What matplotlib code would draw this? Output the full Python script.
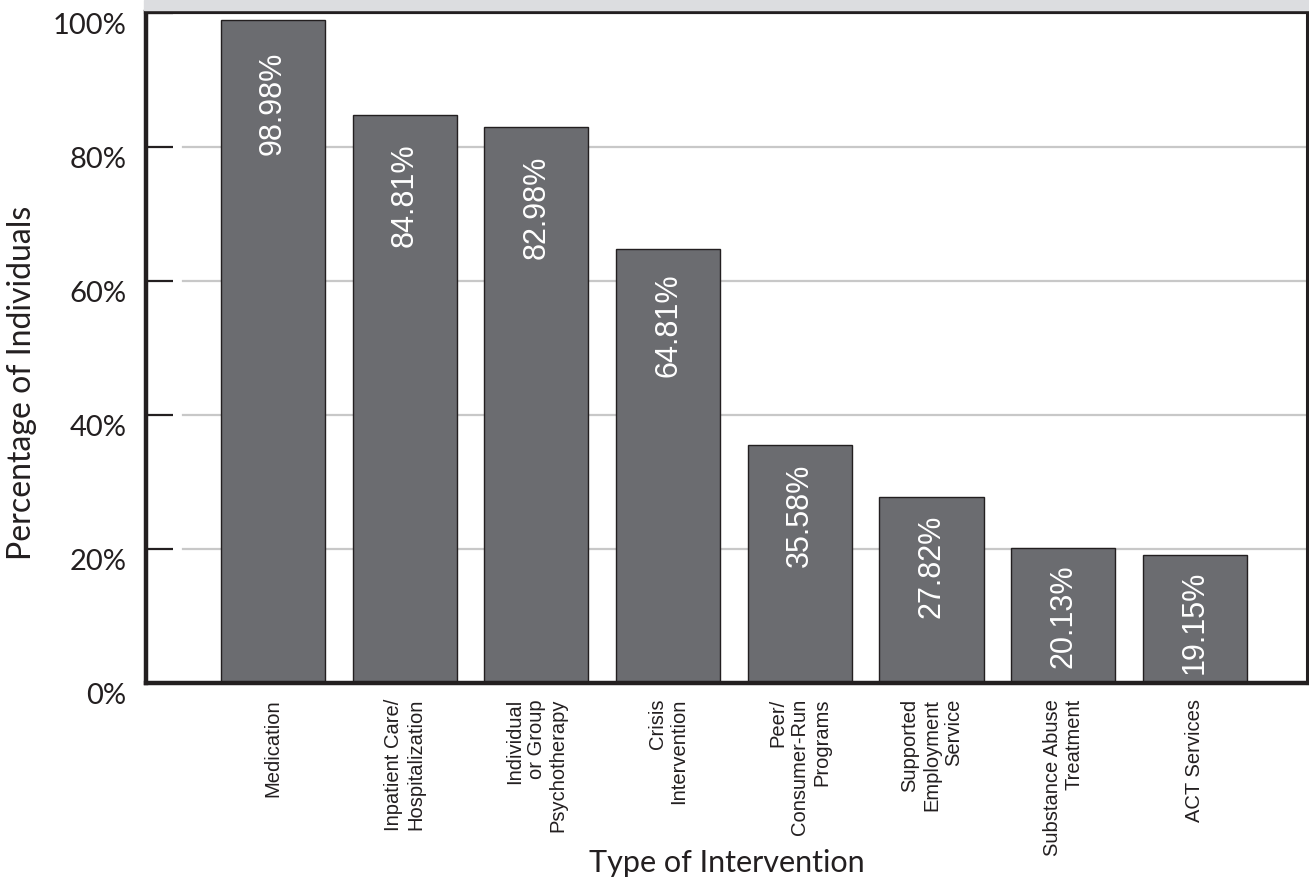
import numpy as np
import matplotlib
matplotlib.use("Agg")
from matplotlib import pyplot as plt
from matplotlib import font_manager
from matplotlib.patches import Rectangle

categories = ["Medication", "Inpatient Care/\nHospitalization",
              "Individual\nor Group\nPsychotherapy", "Crisis\nIntervention",
              "Peer/\nConsumer-Run\nPrograms", "Supported\nEmployment\nService",
              "Substance Abuse\nTreatment", "ACT Services"]
percents = [98.98, 84.81, 82.98, 64.81, 35.58, 27.82, 20.13, 19.15]
y_ticks = [0, 20, 40, 60, 80, 100]
grid_levels = [20, 40, 60, 80]

ink = "#231f20"
bar_fill = "#6b6c70"
humanist = ["Lato", "DejaVu Sans"]

installed = {f.name for f in font_manager.fontManager.ttflist}
if "Liberation Sans Narrow" in installed:
    value_font, value_size = ["Liberation Sans Narrow", "DejaVu Sans"], 26
else:
    value_font, value_size = ["Liberation Sans", "DejaVu Sans"], 22

fig = plt.figure(figsize=(13.09, 8.8), dpi=100)
ax = fig.add_axes([0.1115, 0.2239, 0.887, 0.7619])

# light strip running along the top edge
fig.patches.append(Rectangle((144 / 1309, 1 - 10 / 880), 1, 10 / 880,
                             transform=fig.transFigure, color="#dcdde0", zorder=0))

x = np.arange(len(categories))
for lvl in grid_levels:
    ax.axhline(lvl, xmin=0.032, xmax=1, color="#c8c8c8", lw=1.6, zorder=1)

bars = ax.bar(x, percents, width=0.79, color=bar_fill, edgecolor=ink, lw=1.0, zorder=2)

# value printed sideways just under the top of each bar
for xi, v in zip(x, percents):
    drop = (12 + 0.2 * v) * 0.72
    ax.annotate(f"{v:.2f}%", (xi, v), xytext=(0, -drop), textcoords="offset points",
                rotation=90, ha="center", va="top", color="white",
                fontsize=value_size, family=value_font, zorder=3)

ax.set_xlim(-0.964, 7.851)
ax.set_ylim(0, 100.1)

ax.set_yticks(y_ticks)
ax.set_yticklabels([f"{t}%" for t in y_ticks], family=humanist, fontsize=21, color=ink)
for lbl in ax.get_yticklabels():
    lbl.set_va("top")
ax.tick_params(axis="y", direction="in", length=19.5, width=1.6, color=ink, pad=14)

ax.set_xticks(x)
ax.set_xticklabels(categories, rotation=90, ha="center", va="top",
                   multialignment="right", fontsize=14.5,
                   family=["Liberation Sans", "DejaVu Sans"], color=ink)
ax.tick_params(axis="x", length=0, pad=11.5)

for side, lw in [("left", 3.2), ("bottom", 3.2), ("top", 3.0), ("right", 2.2)]:
    ax.spines[side].set_linewidth(lw)
    ax.spines[side].set_color(ink)

ax.set_ylabel("Percentage of Individuals", fontsize=23, family=humanist,
              color=ink, va="center")
ax.yaxis.set_label_coords(-0.107, 0.447)
ax.set_xlabel("Type of Intervention", fontsize=22, family=humanist,
              color=ink, va="top")
ax.xaxis.set_label_coords(0.5, -0.247)

fig.savefig("out.png", dpi=100)
